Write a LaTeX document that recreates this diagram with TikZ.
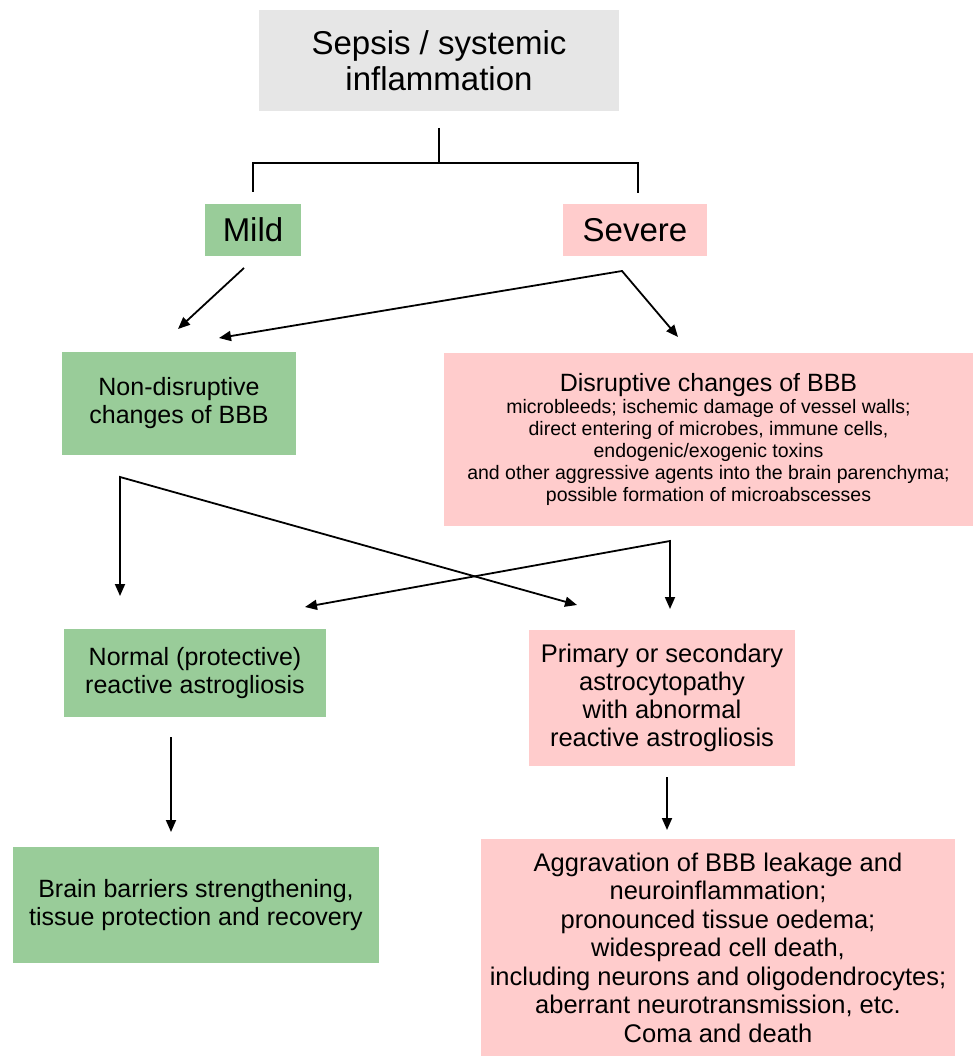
\documentclass[tikz,border=0pt]{standalone}
\usepackage{fontspec}
\setmainfont{Liberation Sans}
\usetikzlibrary{arrows.meta}
\definecolor{gfill}{HTML}{99CC99}
\definecolor{pfill}{HTML}{FFCCCC}
\definecolor{grayfill}{HTML}{E6E6E6}
\begin{document}
\begin{tikzpicture}[x=1pt,y=-1pt,
  box/.style={rectangle, inner sep=0pt, align=center, font=\fontsize{25}{28}\selectfont},
  gbox/.style={box, fill=gfill},
  pbox/.style={box, fill=pfill},
  tip/.style={-{Triangle[length=12pt,width=10pt]}},
  dtip/.style={{Triangle[length=12pt,width=10pt]}-{Triangle[length=12pt,width=10pt]}},
  ln/.style={line width=1.8pt}]
\useasboundingbox (0,0) rectangle (973,1056);

% nodes
\node[box, fill=grayfill, minimum width=360pt, minimum height=101pt, font=\fontsize{33}{36}\selectfont]
  (sep) at (439,60.5) {Sepsis / systemic\\inflammation};
\node[gbox, minimum width=96pt, minimum height=52pt, font=\fontsize{33}{36}\selectfont]
  (mild) at (253,230) {Mild};
\node[pbox, minimum width=144pt, minimum height=52pt, font=\fontsize{33}{36}\selectfont]
  (severe) at (635,230) {Severe};
\node[gbox, minimum width=234pt, minimum height=103pt]
  (nd) at (179,403.5) {Non-disruptive\\changes of BBB};
\node[pbox, minimum width=529pt, minimum height=173pt, font=\fontsize{19.5}{22}\selectfont]
  (dis) at (708.5,439.5) {{\fontsize{25}{28}\selectfont Disruptive changes of BBB}\\
  microbleeds; ischemic damage of vessel walls;\\
  direct entering of microbes, immune cells,\\
  endogenic/exogenic toxins\\
  and other aggressive agents into the brain parenchyma;\\
  possible formation of microabscesses};
\node[gbox, minimum width=262pt, minimum height=88pt]
  (norm) at (195,673) {Normal (protective)\\reactive astrogliosis};
\node[pbox, minimum width=266pt, minimum height=136pt, font=\fontsize{25.5}{28}\selectfont]
  (prim) at (662,698) {Primary or secondary\\astrocytopathy\\with abnormal\\reactive astrogliosis};
\node[gbox, minimum width=366pt, minimum height=116pt]
  (brain) at (196,905) {Brain barriers strengthening,\\tissue protection and recovery};
\node[pbox, minimum width=474pt, minimum height=217pt, font=\fontsize{25.5}{28.5}\selectfont]
  (agg) at (718,947.5) {Aggravation of BBB leakage and\\neuroinflammation;\\pronounced tissue oedema;\\widespread cell death,\\including neurons and oligodendrocytes;\\aberrant neurotransmission, etc.\\Coma and death};

% connector points
\coordinate (b0) at (439,128);
\coordinate (bm) at (439,163);
\coordinate (bl) at (253,192);
\coordinate (br) at (638,193);
\coordinate (ms) at (244,268);
\coordinate (me) at (178,329);
\coordinate (sf) at (622,271);
\coordinate (se1) at (219,338);
\coordinate (se2) at (678,337);
\coordinate (nf) at (120,477);
\coordinate (ne1) at (120,596);
\coordinate (ne2) at (577,605);
\coordinate (df) at (670,541);
\coordinate (de1) at (305,607);
\coordinate (de2) at (670,609);
\coordinate (ns) at (171,737);
\coordinate (ne) at (171,832);
\coordinate (ps) at (667,777);
\coordinate (pe) at (667,830);

% connectors
\draw[ln] (b0) -- (bm);
\draw[ln] (bl) |- (bm) -| (br);
\draw[ln, tip] (ms) -- (me);
\draw[ln, dtip] (se1) -- (sf) -- (se2);
\draw[ln, dtip] (ne1) -- (nf) -- (ne2);
\draw[ln, dtip] (de1) -- (df) -- (de2);
\draw[ln, tip] (ns) -- (ne);
\draw[ln, tip] (ps) -- (pe);
\end{tikzpicture}
\end{document}
